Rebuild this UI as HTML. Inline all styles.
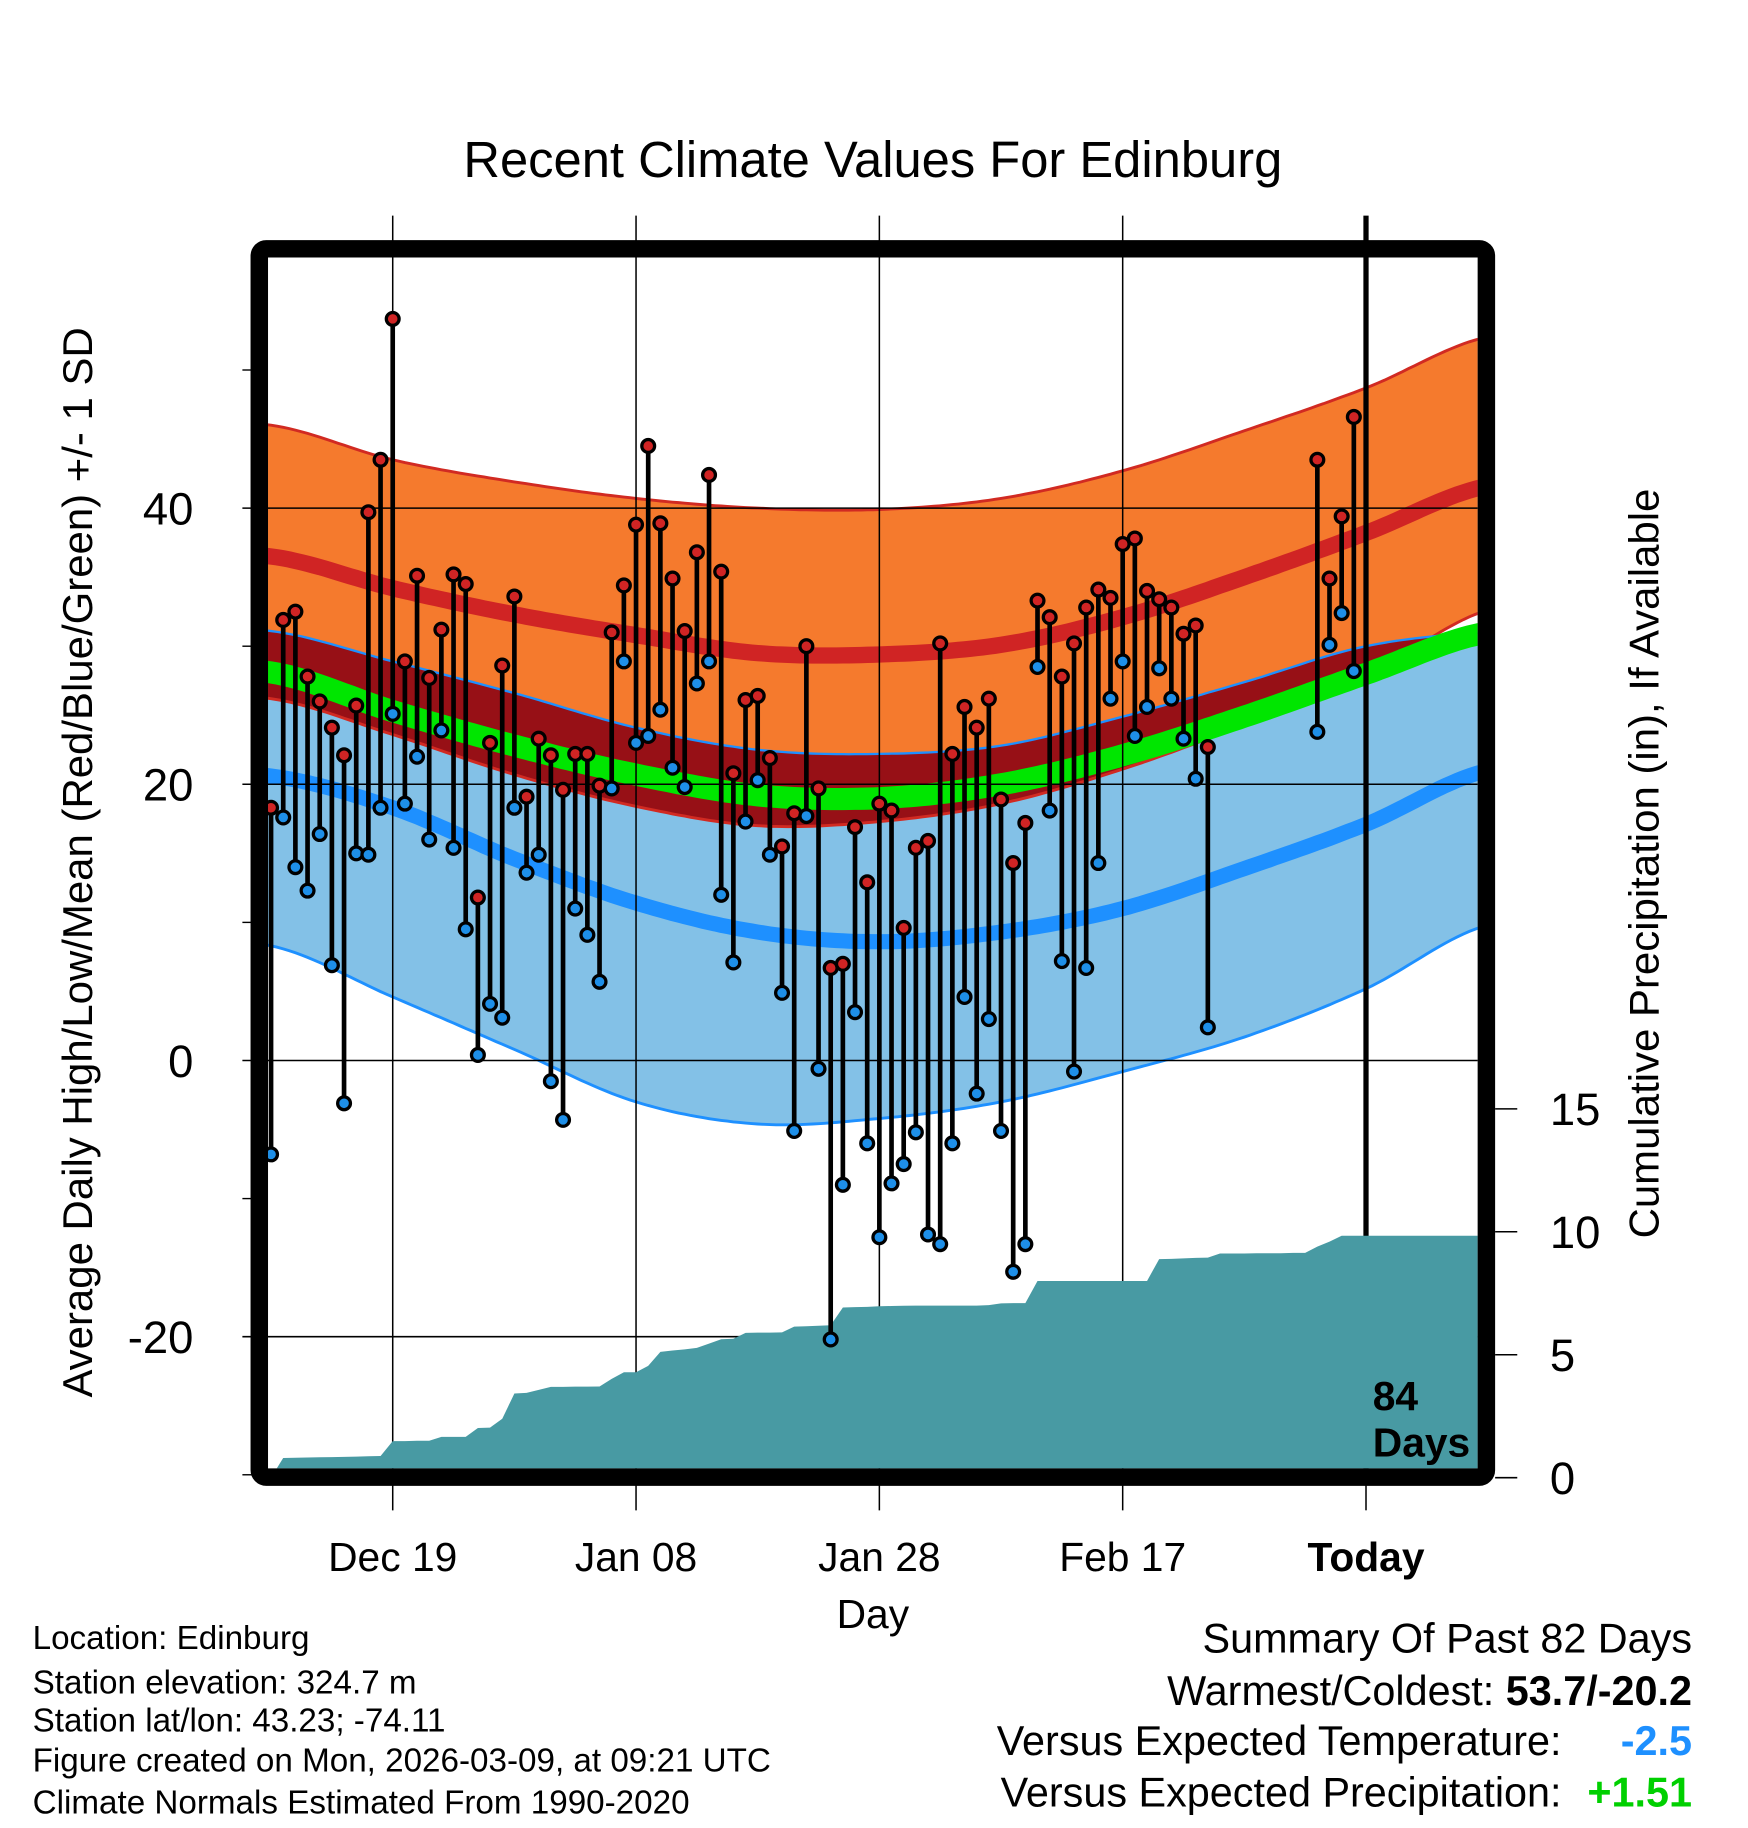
<!DOCTYPE html>
<html><head><meta charset="utf-8"><style>
html,body{margin:0;padding:0;background:#fff}
svg{display:block}
text{font-family:"Liberation Sans",Arial,sans-serif}
</style></head><body>
<svg id="chart" width="1748" height="1828" viewBox="0 0 1500 1568.6" preserveAspectRatio="none" xmlns="http://www.w3.org/2000/svg">
<defs><clipPath id="plotclip"><rect x="230" y="221" width="1038" height="1039"/></clipPath></defs>
<rect width="1500" height="1569" fill="#fff"/>
<text x="749" y="152" font-size="43.5" text-anchor="middle">Recent Climate Values For Edinburg</text>
<g id="bands" clip-path="url(#plotclip)"></g>
<g id="grid"></g>
<g id="precip" clip-path="url(#plotclip)"></g>
<g id="marks" clip-path="url(#plotclip)"></g>
<g id="axes"></g>
<rect x="222.5" y="213.5" width="1053" height="1054" rx="6" fill="none" stroke="#000" stroke-width="15"/>
<text transform="translate(79,740) rotate(-90)" font-size="36" text-anchor="middle">Average Daily High/Low/Mean (Red/Blue/Green) +/- 1 SD</text>
<text transform="translate(1423,741) rotate(-90)" font-size="36" text-anchor="middle">Cumulative Precipitation (in), If Available</text>
<text x="749" y="1397" font-size="35" text-anchor="middle">Day</text>
<g font-size="35" font-weight="bold">
<text x="1178" y="1210">84</text><text x="1178" y="1250">Days</text></g>
<g font-size="28.5">
<text x="28" y="1415">Location: Edinburg</text>
<text x="28" y="1453">Station elevation: 324.7 m</text>
<text x="28" y="1486">Station lat/lon: 43.23; -74.11</text>
<text x="28" y="1520">Figure created on Mon, 2026-03-09, at 09:21 UTC</text>
<text x="28" y="1556">Climate Normals Estimated From 1990-2020</text>
</g>
<g font-size="35.5">
<text x="1452" y="1418" text-anchor="end">Summary Of Past 82 Days</text>
<text x="1452" y="1463" text-anchor="end">Warmest/Coldest: <tspan font-weight="bold">53.7/-20.2</tspan></text>
<text x="1340" y="1506" text-anchor="end">Versus Expected Temperature:</text>
<text x="1452" y="1506" text-anchor="end" font-weight="bold" fill="#1E90FF">-2.5</text>
<text x="1340" y="1550" text-anchor="end">Versus Expected Precipitation:</text>
<text x="1452" y="1550" text-anchor="end" font-weight="bold" fill="#00D000">+1.51</text>
</g>
</svg>
<script>
// ---- data ----
const normDays = [-10,0,10,20,30,40,50,60,70,80,90];
const highPlusSD = [46.0,43.5,41.9,40.7,40.0,39.9,40.7,42.7,45.6,48.7,52.4];
const highMean = [36.5,34.2,32.3,30.8,29.5,29.4,30.1,32.1,35.0,38.2,41.6];
const highMinusSD = [26.2,23.6,20.7,18.4,17.0,17.3,18.6,21.1,24.3,27.8,32.6];
const meanTemp = [28.1,25.3,22.8,20.7,19.2,19.0,20.0,22.1,24.9,28.0,31.0];
const lowPlusSD = [31.1,28.9,26.6,24.1,22.5,22.2,22.8,24.9,27.4,30.0,31.0];
const lowMean = [20.6,18.3,14.6,11.4,9.3,8.6,9.3,11.0,13.9,17.1,21.0];
const lowMinusSD = [8.3,4.6,0.8,-3.0,-4.6,-4.2,-3.0,-0.8,1.7,5.2,9.8];
const obsDays = [];
for (let d=-10; d<=79; d++) obsDays.push(d);
const highs = [18.3,31.9,32.5,27.8,26.0,24.1,22.1,25.7,39.7,43.5,53.7,28.9,35.1,27.7,31.2,35.2,34.5,11.8,23.0,28.6,33.6,19.1,23.3,22.1,19.6,22.2,22.2,19.9,31.0,34.4,38.8,44.5,38.9,34.9,31.1,36.8,42.4,35.4,20.8,26.1,26.4,21.9,15.5,17.9,30.0,19.7,6.7,7.0,16.9,12.9,18.6,18.1,9.6,15.4,15.9,30.2,22.2,25.6,24.1,26.2,18.9,14.3,17.2,33.3,32.1,27.8,30.2,32.8,34.1,33.5,37.4,37.8,34.0,33.4,32.8,30.9,31.5,22.7,null,null,null,null,null,null,null,null,43.5,34.9,39.4,46.6];
const lows = [-6.8,17.6,14.0,12.3,16.4,6.9,-3.1,15.0,14.9,18.3,25.1,18.6,22.0,16.0,23.9,15.4,9.5,0.4,4.1,3.1,18.3,13.6,14.9,-1.5,-4.3,11.0,9.1,5.7,19.7,28.9,23.0,23.5,25.4,21.2,19.8,27.3,28.9,12.0,7.1,17.3,20.3,14.9,4.9,-5.1,17.7,-0.6,-20.2,-9.0,3.5,-6.0,-12.8,-8.9,-7.5,-5.2,-12.6,-13.3,-6.0,4.6,-2.4,3.0,-5.1,-15.3,-13.3,28.5,18.1,7.2,-0.8,6.7,14.3,26.2,28.9,23.5,25.6,28.4,26.2,23.3,20.4,2.4,null,null,null,null,null,null,null,null,23.8,30.1,32.4,28.2];
const precipDays = [];
for (let d=-10; d<=89; d++) precipDays.push(d);
const precipCum = [0,0.80,0.81,0.82,0.83,0.84,0.85,0.86,0.87,0.88,1.49,1.49,1.50,1.50,1.66,1.66,1.66,2.02,2.04,2.40,3.42,3.45,3.57,3.69,3.69,3.70,3.70,3.71,4.02,4.29,4.29,4.55,5.12,5.17,5.22,5.28,5.45,5.63,5.65,5.89,5.90,5.90,5.91,6.14,6.16,6.18,6.20,6.92,6.94,6.95,6.97,6.98,6.99,7.0,7.0,7.0,7.0,7.0,7.0,7.02,7.09,7.10,7.10,8.0,8.0,8.0,8.0,8.0,8.0,8.0,8.0,8.0,8.0,8.89,8.90,8.92,8.94,8.95,9.12,9.12,9.12,9.13,9.13,9.13,9.14,9.14,9.4,9.6,9.84,9.84,9.84,9.84,9.84,9.84,9.84,9.84,9.84,9.84,9.84,9.84];
const yTicks = [40,20,0,-20];
const yMinor = [50,30,10,-10,-30];
const precipTicks = [0,5,10,15];
const xTickDays = [0,20,40,60,80];
const xTickLabels = ["Dec 19","Jan 08","Jan 28","Feb 17","Today"];

// ---- scales ----
const xS = d => 337 + 10.44*d;
const yS = t => 910 - 11.85*t;
const pS = p => 1268 - 21.1*p;
const NS = 'http://www.w3.org/2000/svg';
function mk(tag, attrs, parent){const e=document.createElementNS(NS,tag);for(const k in attrs)e.setAttribute(k,attrs[k]);parent.appendChild(e);return e;}

function interp(vals, d){
  const step=10; let i=Math.floor((d-normDays[0])/step); i=Math.max(0,Math.min(normDays.length-2,i));
  const t=(d-normDays[i])/step;
  const p0=vals[Math.max(0,i-1)],p1=vals[i],p2=vals[i+1],p3=vals[Math.min(vals.length-1,i+2)];
  return 0.5*((2*p1)+(-p0+p2)*t+(2*p0-5*p1+4*p2-p3)*t*t+(-p0+3*p1-3*p2+p3)*t*t*t);
}
const sampleD=[]; for(let d=-11; d<=90; d+=0.5) sampleD.push(d);
function linePts(vals){return sampleD.map(d=>xS(d).toFixed(1)+','+yS(interp(vals,d)).toFixed(1));}
function bandPath(a,b){const top=linePts(a), bot=linePts(b).reverse();return 'M'+top.join('L')+'L'+bot.join('L')+'Z';}

const bands=document.getElementById('bands');
let e;
e=mk('path',{d:bandPath(highPlusSD,highMinusSD),fill:'#F57A2D'},bands);


e=mk('path',{d:bandPath(lowPlusSD,lowMinusSD),fill:'#83C1E7'},bands);


const ovTop=[],ovBot=[];
sampleD.forEach(d=>{const a=Math.min(interp(highPlusSD,d),interp(lowPlusSD,d));const b=Math.max(interp(highMinusSD,d),interp(lowMinusSD,d));ovTop.push([d,a]);ovBot.push([d,Math.min(a,b)]);});
e=mk('path',{d:'M'+ovTop.map(p=>xS(p[0]).toFixed(1)+','+yS(p[1]).toFixed(1)).join('L')+'L'+ovBot.reverse().map(p=>xS(p[0]).toFixed(1)+','+yS(p[1]).toFixed(1)).join('L')+'Z',fill:'#971016'},bands);


function line(vals,color,w){return mk('polyline',{points:linePts(vals).join(' '),fill:'none',stroke:color,'stroke-width':w},bands);}
e=line(highPlusSD,'#D12A22',2.5);  
e=line(highMinusSD,'#D12A22',2.5);  
e=line(lowPlusSD,'#1E90FF',2);  
e=line(lowMinusSD,'#1E90FF',2.5);  
e=line(highMean,'#D02424',14);  
e=line(lowMean,'#1E90FF',13);  
e=line(meanTemp,'#00E600',19);  

const grid=document.getElementById('grid'), axes=document.getElementById('axes');
yTicks.forEach(t=>{
  e=mk('line',{x1:208,x2:1268,y1:yS(t),y2:yS(t),stroke:'#000','stroke-width':1.3},grid);
   
  e=mk('text',{x:166,y:yS(t)+14,'font-size':39,'text-anchor':'end'},axes); e.textContent=t;
   
});
yMinor.forEach(t=>{e=mk('line',{x1:208,x2:216,y1:yS(t),y2:yS(t),stroke:'#000','stroke-width':1.2},axes);
   });
xTickDays.forEach((d,i)=>{
  const today = xTickLabels[i]==='Today';
  e=mk('line',{x1:xS(d),x2:xS(d),y1:185,y2:today?1260:1296,stroke:'#000','stroke-width':today?4.5:1.3},grid);
   
  if(today){e=mk('line',{x1:xS(d),x2:xS(d),y1:1270,y2:1296,stroke:'#000','stroke-width':1.3},grid);
     }
  e=mk('text',{x:xS(d),y:1348,'font-size':35,'text-anchor':'middle','font-weight':today?'bold':'normal'},axes); e.textContent=xTickLabels[i];
   
});
precipTicks.forEach(p=>{
  e=mk('line',{x1:1283,x2:1302,y1:pS(p),y2:pS(p),stroke:'#000','stroke-width':1.3},axes);
   
  e=mk('text',{x:1330,y:pS(p)+14,'font-size':39},axes); e.textContent=p;
   
});

const pg=document.getElementById('precip');
let pd='M'+xS(precipDays[0])+','+pS(0);
precipDays.forEach((d,i)=>{pd+='L'+xS(d).toFixed(1)+','+pS(precipCum[i]).toFixed(1);});
pd+='L1270,'+pS(precipCum[precipCum.length-1]).toFixed(1)+'L1270,1262L'+xS(precipDays[0])+',1262Z';
e=mk('path',{d:pd,fill:'#489AA3'},pg);
 

const mg=document.getElementById('marks');
obsDays.forEach((d,i)=>{
  const h=highs[i], l=lows[i]; if(h===null||l===null) return;
  const x=xS(d);
  e=mk('line',{x1:x,x2:x,y1:yS(h),y2:yS(l),stroke:'#000','stroke-width':4},mg);
   
});
obsDays.forEach((d,i)=>{
  const h=highs[i], l=lows[i]; if(h===null||l===null) return;
  const x=xS(d);
  e=mk('circle',{cx:x,cy:yS(l),r:5.5,fill:'#1E8FE8',stroke:'#000','stroke-width':2.8},mg);
   
  e=mk('circle',{cx:x,cy:yS(h),r:5.5,fill:'#D02424',stroke:'#000','stroke-width':2.8},mg);
   
});
</script>
</body></html>
